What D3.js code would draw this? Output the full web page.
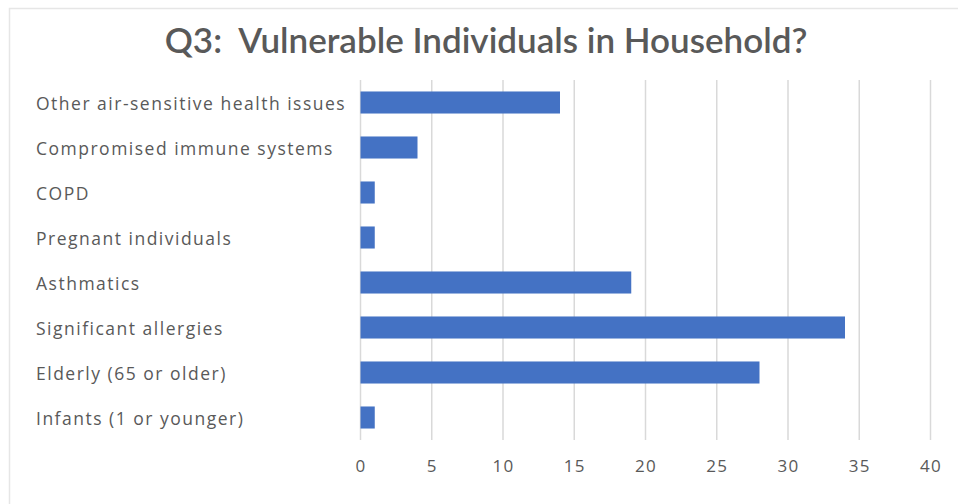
<!DOCTYPE html>
<html><head><meta charset="utf-8">
<script src="https://cdn.jsdelivr.net/npm/d3@7"></script>
<style>body{margin:0;background:#fff;} svg{display:block;}</style>
</head><body>
<svg id="chart" width="958" height="504"></svg>
<script>
const categories = ["Other air-sensitive health issues","Compromised immune systems","COPD","Pregnant individuals","Asthmatics","Significant allergies","Elderly (65 or older)","Infants (1 or younger)"];
const values = [14, 4, 1, 1, 19, 34, 28, 1];
const tickValues = [0, 5, 10, 15, 20, 25, 30, 35, 40];
const title = "Q3:  Vulnerable Individuals in Household?";

const svg = d3.select("#chart");
const font = "'Open Sans', Lato, sans-serif";
// chart border
svg.append("rect").attr("x", 9.5).attr("y", 8.5).attr("width", 960).attr("height", 520)
  .attr("fill", "#fff").attr("stroke", "#e6e6e6").attr("stroke-width", 1.5);

const x = d3.scaleLinear().domain([0, 40]).range([360.5, 930.5]);
const y = d3.scaleBand().domain(categories).range([80, 440]).paddingInner(0.51).paddingOuter(0.255);

// gridlines
svg.append("g").selectAll("line").data(tickValues).join("line")
  .attr("x1", d => x(d)).attr("x2", d => x(d)).attr("y1", 80).attr("y2", 440)
  .attr("stroke", "#d9d9d9").attr("stroke-width", 1.5);

// bars
svg.append("g").selectAll("rect").data(values).join("rect")
  .attr("x", x(0)).attr("y", (d, i) => y(categories[i]))
  .attr("width", d => x(d) - x(0)).attr("height", y.bandwidth())
  .attr("fill", "#4472C4");

// x axis
const xAxis = d3.axisBottom(x).tickValues(tickValues).tickSize(0).tickPadding(0);
const gx = svg.append("g").attr("transform", "translate(0,459)").call(xAxis);
gx.select(".domain").remove();
gx.selectAll("text").attr("font-family", font).attr("font-size", 17).attr("fill", "#595959")
  .attr("dy", "0.75em").attr("letter-spacing", 1.2);

// category labels
svg.append("g").selectAll("text").data(categories).join("text")
  .attr("x", 36).attr("y", d => y(d) + y.bandwidth() / 2 + 1.5).attr("dy", "0.35em")
  .attr("font-family", font).attr("font-size", 17.5).attr("fill", "#595959")
  .attr("letter-spacing", 1.5)
  .text(d => d);

// title
svg.append("text").attr("x", 486).attr("y", 53).attr("text-anchor", "middle")
  .attr("font-family", "Lato, 'Open Sans', sans-serif").attr("font-size", 35).attr("font-weight", 600).attr("fill", "#595959")
  .text(title).style("white-space", "pre");
</script>
</body></html>
